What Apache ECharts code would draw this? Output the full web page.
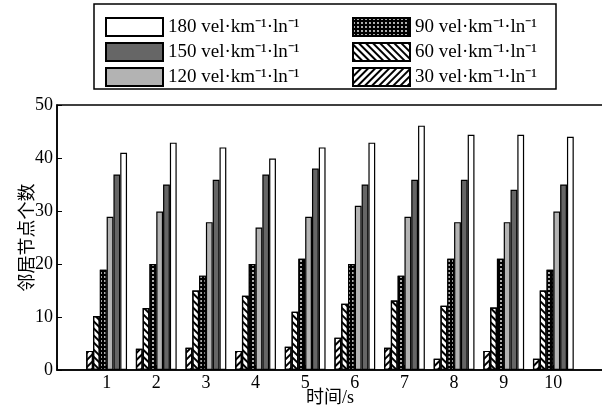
<!DOCTYPE html>
<html>
<head>
<meta charset="utf-8">
<script src="https://cdn.jsdelivr.net/npm/echarts@6/dist/echarts.min.js"></script>
<style>
  html, body { margin: 0; padding: 0; background: #fff; }
  #main { width: 602px; height: 417px; }
</style>
</head>
<body>
<div id="main"></div>
<script>
  // time (s)
  const times = [1, 2, 3, 4, 5, 6, 7, 8, 9, 10]
  const speedNames = [
    '30 vel·km⁻¹·ln⁻¹',
    '60 vel·km⁻¹·ln⁻¹',
    '90 vel·km⁻¹·ln⁻¹',
    '120 vel·km⁻¹·ln⁻¹',
    '150 vel·km⁻¹·ln⁻¹',
    '180 vel·km⁻¹·ln⁻¹'
  ]
  // neighbour node counts
  const v30 = [3.6, 4.0, 4.2, 3.6, 4.4, 6.1, 4.2, 2.1, 3.6, 2.1]
  const v60 = [10.2, 11.7, 15.0, 14.0, 11.0, 12.5, 13.1, 12.1, 11.8, 15.0]
  const v90 = [18.9, 20.0, 17.8, 20.0, 21.0, 20.0, 17.8, 21.0, 21.0, 18.9]
  const v120 = [28.9, 29.9, 27.9, 26.9, 28.9, 31.0, 28.9, 27.9, 27.9, 29.9]
  const v150 = [36.9, 35.0, 35.9, 36.9, 38.0, 35.0, 35.9, 35.9, 34.0, 35.0]
  const v180 = [41.0, 42.9, 42.0, 39.9, 42.0, 42.9, 46.1, 44.4, 44.4, 44.0]
  const yTicks = [0, 10, 20, 30, 40, 50]

  const serif = 'Liberation Serif, Times New Roman, serif'
  const cjk = 'Liberation Serif, Noto Sans CJK SC, serif'

  const hatch = rot => ({
    symbol: 'rect',
    symbolSize: 1,
    dashArrayX: [1, 0],
    dashArrayY: [1.5, 2.5],
    rotation: rot,
    color: '#000'
  })

  const styles = [
    { color: '#fff', decal: hatch(-Math.PI / 4) },
    { color: '#fff', decal: hatch(Math.PI / 4) },
    { color: '#000', decal: { symbol: 'circle', symbolSize: 0.9, dashArrayX: [2, 2], dashArrayY: [2, 2], color: '#fff' } },
    { color: '#b3b3b3' },
    { color: '#666666' },
    { color: '#ffffff' }
  ]
  const values = [v30, v60, v90, v120, v150, v180]

  const series = values.map((vals, i) => ({
    name: speedNames[i],
    type: 'bar',
    barWidth: 6.8,
    barGap: '0%',
    data: vals.map((v, j) => [times[j], v]),
    itemStyle: Object.assign({ borderColor: '#000', borderWidth: 1.2 }, styles[i])
  }))

  const legendBase = {
    orient: 'vertical', top: 12, icon: 'rect',
    itemWidth: 57, itemHeight: 18, itemGap: 5,
    textStyle: { fontFamily: serif, fontSize: 19, lineHeight: 18, color: '#000' },
    itemStyle: { borderWidth: 2, borderColor: '#000' }
  }

  const chart = echarts.init(document.getElementById('main'))
  chart.setOption({
    animation: false,
    backgroundColor: '#fff',
    grid: {
      left: 57, top: 105, width: 546, bottom: 47, outerBoundsMode: 'none',
      show: true, borderColor: '#000', borderWidth: 1.5, backgroundColor: 'transparent'
    },
    legend: [
      Object.assign({ data: [speedNames[5], speedNames[4], speedNames[3]], left: 100 }, legendBase),
      Object.assign({ data: [speedNames[2], speedNames[1], speedNames[0]], left: 347 }, legendBase)
    ],
    graphic: [
      { type: 'rect', shape: { x: 94, y: 4, width: 462, height: 85 }, style: { fill: 'none', stroke: '#000', lineWidth: 1.5 }, z: 10 }
    ],
    xAxis: {
      type: 'value',
      min: 0, max: 11, interval: 1,
      name: '时间/s', nameLocation: 'middle', nameGap: 19, nameMoveOverlap: false,
      nameTextStyle: { fontFamily: cjk, fontSize: 18, color: '#000' },
      splitLine: { show: false },
      axisLine: { lineStyle: { color: '#000', width: 1.5 } },
      axisTick: { inside: true, length: 5, lineStyle: { color: '#000' } },
      axisLabel: {
        margin: 4, fontFamily: serif, fontSize: 18, color: '#000',
        formatter: v => (v >= 1 && v <= 10 ? String(v) : '')
      }
    },
    yAxis: {
      type: 'value',
      min: yTicks[0], max: yTicks[yTicks.length - 1], interval: 10,
      name: '邻居节点个数', nameLocation: 'middle', nameGap: 22, nameRotate: 90, nameMoveOverlap: false,
      nameTextStyle: { fontFamily: 'Noto Sans CJK SC', fontSize: 18, color: '#000' },
      splitLine: { show: false },
      axisLine: { show: true, lineStyle: { color: '#000', width: 1.5 } },
      axisTick: { show: true, inside: true, length: 5, lineStyle: { color: '#000' } },
      axisLabel: { margin: 4, fontFamily: serif, fontSize: 18, color: '#000' }
    },
    series
  })
</script>
</body>
</html>
